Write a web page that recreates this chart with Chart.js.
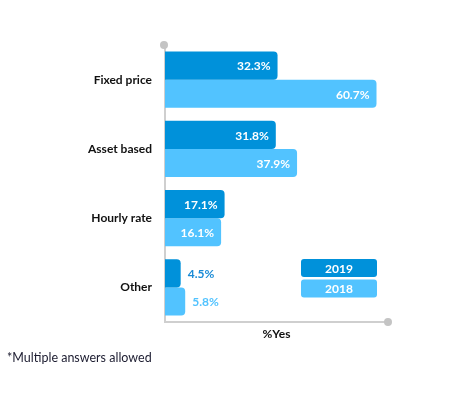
<!DOCTYPE html>
<html>
<head>
<meta charset="utf-8">
<style>
  html, body { margin: 0; padding: 0; background: #ffffff; }
  #wrap { width: 473px; height: 397px; position: relative; }
</style>
<script src="https://cdn.jsdelivr.net/npm/chart.js@4/dist/chart.umd.min.js"></script>
</head>
<body>
<div id="wrap"><canvas id="c" width="473" height="397"></canvas></div>
<script>
const categories = ["Fixed price", "Asset based", "Hourly rate", "Other"];
const values2019 = [32.3, 31.8, 17.1, 4.5];
const values2018 = [60.7, 37.9, 16.1, 5.8];
const seriesNames = ["2019", "2018"];
const axisTitle = "%Yes";
const footnote = "*Multiple answers allowed";

const COLOR_2019 = "#0091DA";
const COLOR_2018 = "#52C3FF";
const AXIS_COLOR = "#cfcfcf";
const FONT = "Lato, 'Open Sans', sans-serif";

const decorPlugin = {
  id: "decor",
  afterDatasetsDraw(chart) {
    const ctx = chart.ctx;
    const area = chart.chartArea;
    ctx.save();
    // value labels
    chart.data.datasets.forEach((ds, di) => {
      const meta = chart.getDatasetMeta(di);
      meta.data.forEach((bar, i) => {
        const v = ds.data[i];
        const txt = v.toFixed(1) + "%";
        ctx.font = "bold 12px " + FONT;
        ctx.textBaseline = "middle";
        if (v > 10) {
          ctx.fillStyle = "#ffffff";
          ctx.textAlign = "right";
          ctx.fillText(txt, bar.x - 7, bar.y + 1);
        } else {
          ctx.fillStyle = ds.labelColor;
          ctx.textAlign = "left";
          ctx.fillText(txt, bar.x + 7, bar.y + 1);
        }
      });
    });
    // axis end dots
    ctx.fillStyle = "#c4c4c4";
    ctx.beginPath();
    ctx.arc(area.left - 1, area.top, 4, 0, Math.PI * 2);
    ctx.fill();
    ctx.beginPath();
    ctx.arc(area.right, area.bottom, 4, 0, Math.PI * 2);
    ctx.fill();
    // axis title
    ctx.fillStyle = "#111111";
    ctx.font = "bold 12px " + FONT;
    ctx.textAlign = "center";
    ctx.textBaseline = "middle";
    ctx.fillText(axisTitle, (area.left + area.right) / 2, area.bottom + 12);
    // legend
    const colors = [COLOR_2019, COLOR_2018];
    seriesNames.forEach((name, k) => {
      const x = 301, y = 259 + k * 20.5, w = 76, h = 18;
      ctx.fillStyle = colors[k];
      ctx.beginPath();
      ctx.roundRect(x, y, w, h, 3);
      ctx.fill();
      ctx.fillStyle = "#ffffff";
      ctx.font = "bold 12px " + FONT;
      ctx.textAlign = "center";
      ctx.textBaseline = "middle";
      ctx.fillText(name, x + w / 2, y + h / 2 + 1);
    });
    // footnote
    ctx.fillStyle = "#1c1c30";
    ctx.font = "12.5px " + FONT;
    ctx.textAlign = "left";
    ctx.textBaseline = "alphabetic";
    ctx.fillText(footnote, 7, 362);
    ctx.restore();
  }
};

new Chart(document.getElementById("c"), {
  type: "bar",
  data: {
    labels: categories,
    datasets: [
      { label: seriesNames[0], data: values2019, backgroundColor: COLOR_2019, labelColor: "#1a8bd6",
        borderRadius: 4, borderSkipped: "start", categoryPercentage: 0.81, barPercentage: 1.0 },
      { label: seriesNames[1], data: values2018, backgroundColor: COLOR_2018, labelColor: "#52C3FF",
        borderRadius: 4, borderSkipped: "start", categoryPercentage: 0.81, barPercentage: 1.0 }
    ]
  },
  options: {
    indexAxis: "y",
    responsive: false,
    animation: false,
    devicePixelRatio: 1,
    layout: { padding: { top: 45, right: 85, bottom: 0, left: 0 } },
    plugins: { legend: { display: false }, tooltip: { enabled: false } },
    scales: {
      x: {
        min: 0, max: 64,
        ticks: { display: false },
        grid: { display: false },
        border: { display: true, color: AXIS_COLOR, width: 2 },
        afterFit(scale) { scale.height = 75; }
      },
      y: {
        ticks: { color: "#111111", font: { family: FONT, size: 12, weight: "bold" }, padding: 5 },
        grid: { display: false },
        border: { display: true, color: AXIS_COLOR, width: 2 },
        afterFit(scale) { scale.width = 165; }
      }
    }
  },
  plugins: [decorPlugin]
});
</script>
</body>
</html>
